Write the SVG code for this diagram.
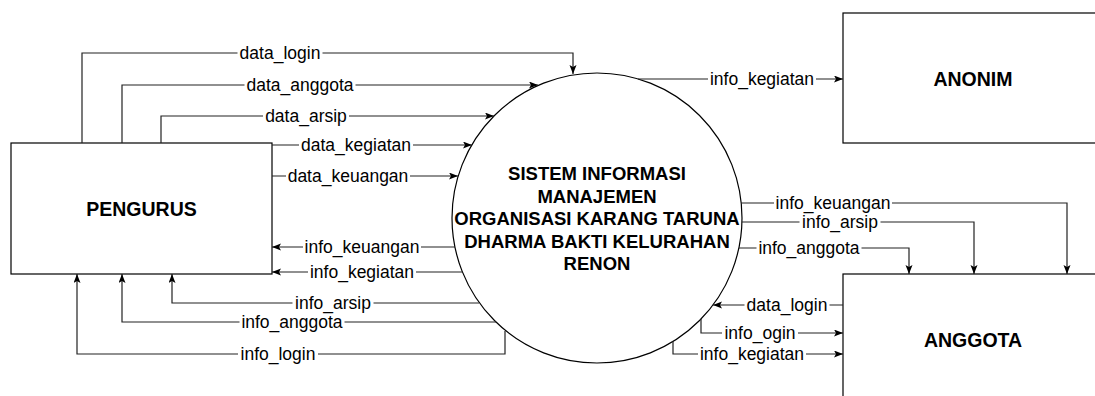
<svg xmlns="http://www.w3.org/2000/svg" width="1095" height="396" viewBox="0 0 1095 396">
<defs>
<style>
.node{fill:#fff;stroke:#000;stroke-width:1.2}
.title{font-family:"Liberation Sans",Arial,sans-serif;font-weight:bold;font-size:19.5px;text-anchor:middle;fill:#000}
.ctext{font-family:"Liberation Sans",Arial,sans-serif;font-weight:bold;font-size:18.5px;text-anchor:middle;fill:#000}
.ln{fill:none;stroke:#222;stroke-width:1.2}
.lbl{font-family:"Liberation Sans",Arial,sans-serif;font-size:17.5px;text-anchor:middle;fill:#000}
.bg{fill:#fff}
</style>
<marker id="arr" markerUnits="userSpaceOnUse" markerWidth="10" markerHeight="8" refX="9" refY="3.5" orient="auto">
<path d="M0,0 L9,3.5 L0,7 L2,3.5 Z" fill="#000"/>
</marker>
</defs>
<rect width="1095" height="396" fill="#fff"/>

<g id="pengurus">
<rect class="node" x="11" y="143" width="261" height="131"/>
<text class="title" x="141.5" y="216">PENGURUS</text>
</g>
<g id="anonim">
<rect class="node" x="843" y="13" width="262" height="130"/>
<text class="title" x="973" y="86">ANONIM</text>
</g>
<g id="anggota">
<rect class="node" x="843" y="274" width="262" height="140"/>
<text class="title" x="973" y="347">ANGGOTA</text>
</g>
<g id="sistem">
<circle class="node" cx="597" cy="218" r="145"/>
<text class="ctext" x="597" y="180">SISTEM INFORMASI</text>
<text class="ctext" x="597" y="202.5">MANAJEMEN</text>
<text class="ctext" x="597" y="225">ORGANISASI KARANG TARUNA</text>
<text class="ctext" x="597" y="247.5">DHARMA BAKTI KELURAHAN</text>
<text class="ctext" x="597" y="270">RENON</text>
</g>

<g id="connectors">
<path class="ln" d="M82,143 V53 H573 V74" marker-end="url(#arr)"/>
<path class="ln" d="M122,143 V85 H538" marker-end="url(#arr)"/>
<path class="ln" d="M161,143 V116 H494" marker-end="url(#arr)"/>
<path class="ln" d="M272,145 H472" marker-end="url(#arr)"/>
<path class="ln" d="M272,176 H458" marker-end="url(#arr)"/>
<path class="ln" d="M455,247 H272" marker-end="url(#arr)"/>
<path class="ln" d="M463,272 H272" marker-end="url(#arr)"/>
<path class="ln" d="M479,303 H172 V274" marker-end="url(#arr)"/>
<path class="ln" d="M496,322 H122 V274" marker-end="url(#arr)"/>
<path class="ln" d="M505,331 V354 H77 V274" marker-end="url(#arr)"/>
<path class="ln" d="M638,79 H843" marker-end="url(#arr)"/>
<path class="ln" d="M741,203 H1067 V274" marker-end="url(#arr)"/>
<path class="ln" d="M742,222 H974 V274" marker-end="url(#arr)"/>
<path class="ln" d="M739,248 H909 V274" marker-end="url(#arr)"/>
<path class="ln" d="M843,305 H713" marker-end="url(#arr)"/>
<path class="ln" d="M701,319 V333 H843" marker-end="url(#arr)"/>
<path class="ln" d="M673,341 V354 H843" marker-end="url(#arr)"/>

<g id="labels">
<rect class="bg" x="237.5" y="47" width="85" height="12"/><text class="lbl" x="280" y="59">data_login</text>
<rect class="bg" x="244.5" y="79" width="111" height="12"/><text class="lbl" x="300" y="91">data_anggota</text>
<rect class="bg" x="263" y="110" width="86" height="12"/><text class="lbl" x="306" y="122">data_arsip</text>
<rect class="bg" x="299" y="139" width="114" height="12"/><text class="lbl" x="356" y="151">data_kegiatan</text>
<rect class="bg" x="286" y="170" width="124" height="12"/><text class="lbl" x="348" y="182">data_keuangan</text>
<rect class="bg" x="303" y="241" width="118" height="12"/><text class="lbl" x="362" y="253">info_keuangan</text>
<rect class="bg" x="308" y="266" width="108" height="12"/><text class="lbl" x="362" y="278">info_kegiatan</text>
<rect class="bg" x="292.5" y="297" width="81" height="12"/><text class="lbl" x="333" y="309">info_arsip</text>
<rect class="bg" x="239.5" y="316" width="105" height="12"/><text class="lbl" x="292" y="328">info_anggota</text>
<rect class="bg" x="238" y="348" width="80" height="12"/><text class="lbl" x="278" y="360">info_login</text>
<rect class="bg" x="708" y="73" width="108" height="12"/><text class="lbl" x="762" y="85">info_kegiatan</text>
<rect class="bg" x="774" y="197" width="118" height="12"/><text class="lbl" x="833" y="209">info_keuangan</text>
<rect class="bg" x="799.5" y="216" width="81" height="12"/><text class="lbl" x="840" y="228">info_arsip</text>
<rect class="bg" x="756.5" y="242" width="105" height="12"/><text class="lbl" x="809" y="254">info_anggota</text>
<rect class="bg" x="744.5" y="299" width="85" height="12"/><text class="lbl" x="787" y="311">data_login</text>
<rect class="bg" x="722" y="327" width="76" height="12"/><text class="lbl" x="760" y="339">info_ogin</text>
<rect class="bg" x="698" y="348" width="108" height="12"/><text class="lbl" x="752" y="360">info_kegiatan</text>
</g>
</g>
</svg>
